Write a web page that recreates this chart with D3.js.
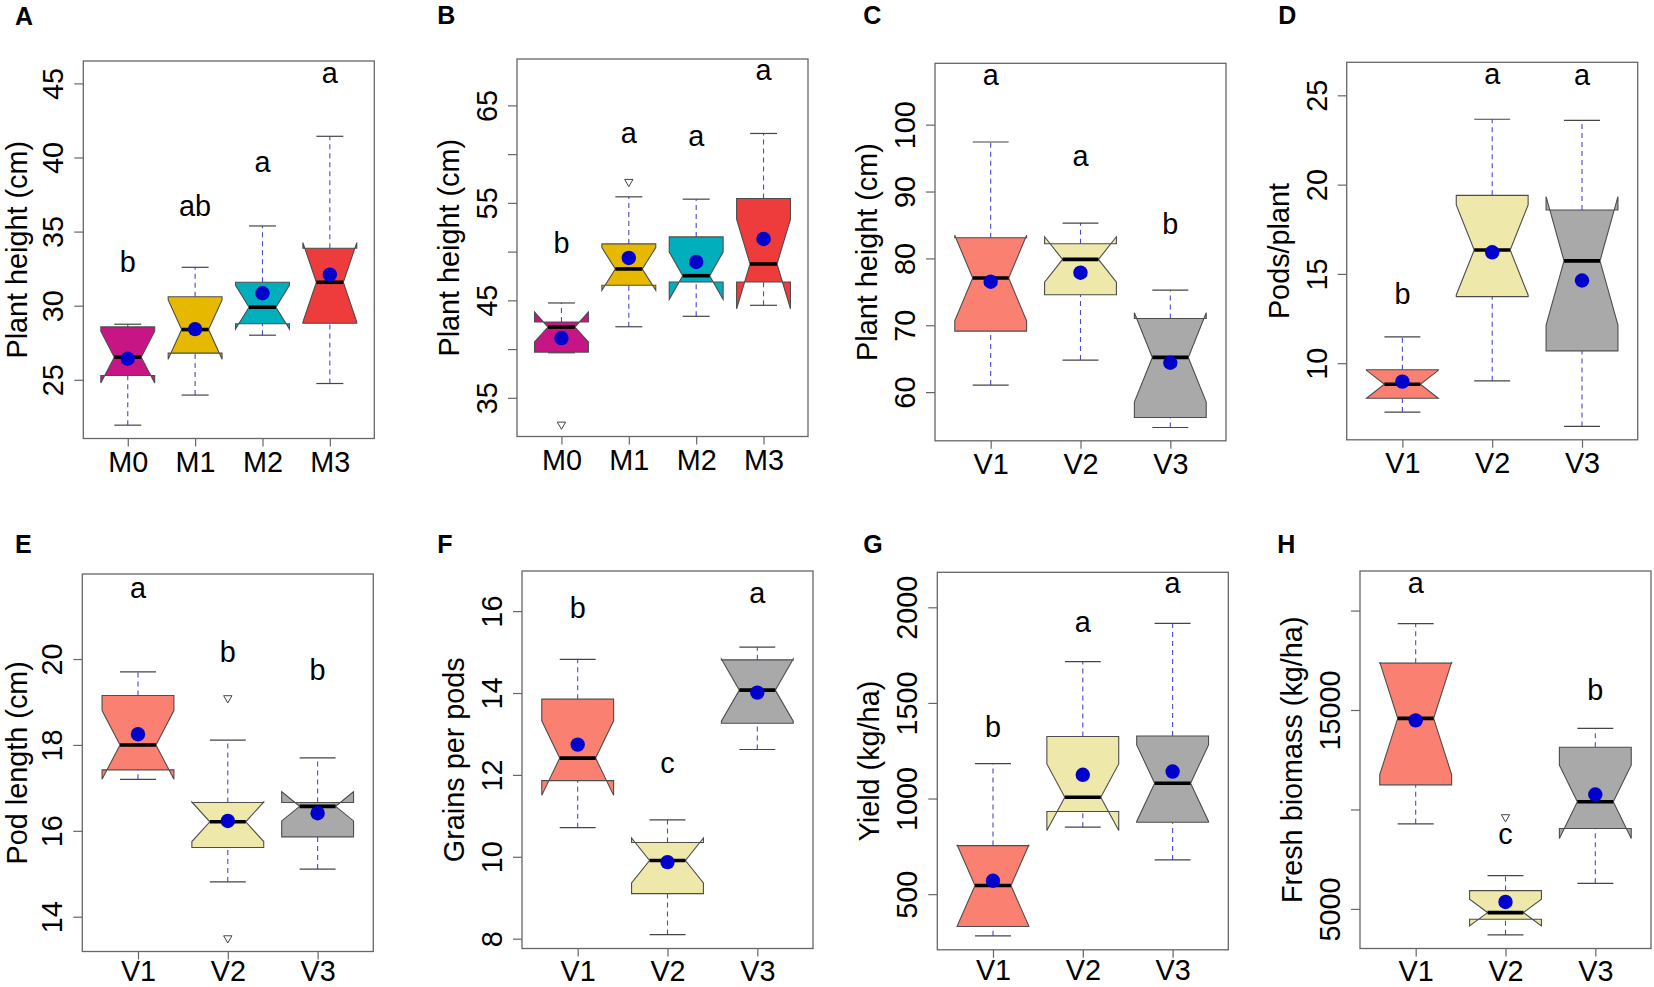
<!DOCTYPE html>
<html>
<head>
<meta charset="utf-8">
<script src="https://cdn.jsdelivr.net/npm/d3@7"></script>
<style>
  body { margin: 0; background: #fff; }
  text { font-family: "Liberation Sans", Arial, sans-serif; }
</style>
</head>
<body>
<div id="chart"></div>
<script>
// groups and fills
const groupsM = ["M0", "M1", "M2", "M3"];
const groupsV = ["V1", "V2", "V3"];
const colorsM = ["#C71585", "#E7B800", "#00AFBB", "#EE3B3B"];
const colorsV = ["#FA8072", "#EEE8AA", "#A9A9A9"];

// stats per group: [lower whisker, q1, median, q3, upper whisker]
// notch: [conf low, conf high]

// A - plant height (cm), M groups
const statsA = [[21.94, 25.29, 26.53, 28.57, 28.75], [23.97, 26.80, 28.39, 30.60, 32.59],
                [28.01, 28.78, 29.90, 31.58, 35.38], [24.75, 28.82, 31.58, 33.88, 41.43]];
const notchA = [[24.78, 28.28], [26.39, 30.39], [28.42, 31.38], [28.90, 34.26]];
const meanA = [26.42, 28.42, 30.84, 32.10];
const outA = [[], [], [], []];
const lettersA = ["b", "ab", "a", "a"];
const letterYA = [32.3, 36.06, 39.04, 45.04];
const ticksA = [25, 30, 35, 40, 45];
const labelsA = [25, 30, 35, 40, 45];

// B - plant height (cm), M groups
const statsB = [[39.62, 39.69, 42.26, 42.77, 44.73], [42.29, 46.54, 48.22, 50.79, 55.62],
                [43.36, 46.88, 47.53, 51.51, 55.38], [44.49, 46.88, 48.73, 55.45, 62.12]];
const notchB = [[40.72, 43.80], [46.03, 50.41], [45.10, 49.96], [44.14, 53.32]];
const meanB = [41.13, 49.35, 48.94, 51.30];
const outB = [[32.26], [57.16], [], []];
const lettersB = ["b", "a", "a", "a"];
const letterYB = [49.9, 61.1, 60.86, 67.6];
const ticksB = [35, 40, 45, 50, 55, 60, 65];
const labelsB = [35, 45, 55, 65];

// C - plant height (cm), V groups
const statsC = [[61.05, 69.13, 77.06, 83.09, 97.41], [64.79, 74.56, 79.85, 82.19, 85.29],
                [54.71, 56.21, 65.19, 71.02, 75.26]];
const notchC = [[70.67, 83.45], [76.46, 83.24], [58.51, 71.87]];
const meanC = [76.51, 77.86, 64.39];
const outC = [[], [], []];
const lettersC = ["a", "a", "b"];
const letterYC = [106.0, 93.87, 83.59];
const ticksC = [60, 70, 80, 90, 100];
const labelsC = [60, 70, 80, 90, 100];

// D - pods/plant
const statsD = [[7.26, 8.04, 8.82, 9.63, 11.47], [9.01, 13.73, 16.34, 19.40, 23.66],
                [6.46, 10.69, 15.73, 18.58, 23.60]];
const notchD = [[8.04, 9.60], [13.82, 18.86], [12.13, 19.33]];
const meanD = [8.97, 16.21, 14.63];
const outD = [[], [], []];
const lettersD = ["b", "a", "a"];
const letterYD = [13.32, 25.63, 25.58];
const ticksD = [10, 15, 20, 25];
const labelsD = [10, 15, 20, 25];

// E - pod length (cm)
const statsE = [[17.20, 17.42, 18.00, 19.15, 19.70], [14.81, 15.61, 16.21, 16.66, 18.11],
                [15.11, 15.86, 16.57, 16.66, 17.70]];
const notchE = [[17.20, 18.80], [15.75, 16.67], [16.23, 16.91]];
const meanE = [18.25, 16.23, 16.41];
const outE = [[], [19.09, 13.50], []];
const lettersE = ["a", "b", "b"];
const letterYE = [21.41, 19.92, 19.51];
const ticksE = [14, 16, 18, 20];
const labelsE = [14, 16, 18, 20];

// F - grains per pods
const statsF = [[10.71, 11.86, 12.41, 13.85, 14.82], [8.10, 9.10, 9.91, 10.35, 10.90],
                [12.62, 13.26, 14.07, 14.81, 15.12]];
const notchF = [[11.50, 13.32], [9.36, 10.46], [13.31, 14.83]];
const meanF = [12.74, 9.87, 14.01];
const outF = [[], [], []];
const lettersF = ["b", "c", "a"];
const letterYF = [15.82, 12.05, 16.19];
const ticksF = [8, 10, 12, 14, 16];
const labelsF = [8, 10, 12, 14, 16];

// G - yield (kg/ha)
const statsG = [[282, 331, 545, 754, 1183], [850, 932, 1007, 1324, 1716],
                [679, 876, 1080, 1327, 1916]];
const notchG = [[332, 758], [833, 1181], [880, 1280]];
const meanG = [570, 1124, 1141];
const outG = [[], [], []];
const lettersG = ["b", "a", "a"];
const letterYG = [1324, 1873, 2073];
const ticksG = [500, 1000, 1500, 2000];
const labelsG = [500, 1000, 1500, 2000];

// H - fresh biomass (kg/ha)
const statsH = [[9280, 11237, 14581, 17356, 19346], [3696, 4482, 4816, 5920, 6672],
                [6287, 9046, 10384, 13126, 14079]];
const notchH = [[11755, 17407], [4147, 5485], [8545, 12223]];
const meanH = [14480, 5351, 10752];
const outH = [[], [9615], []];
const lettersH = ["a", "c", "b"];
const letterYH = [20867, 8277, 15483];
const ticksH = [5000, 10000, 15000, 20000];
const labelsH = [5000, 15000];

// layout
let width = 1654, height = 987;
const plotW = 291, plotH = 377.5;
const fontSize = 28.8;
const frameCol = "#666";

let svg = d3.select("#chart")
  .append('svg')
  .attr('width', width)
  .attr('height', height)
  .style('background', '#fff');

const panels = [
  { tag: "A", tx: 15, ty: 25, left: 83.3, top: 61, yDomain: [21.04, 46.51], title: "Plant height (cm)",
    groups: groupsM, colors: colorsM, stats: statsA, notch: notchA, mean: meanA, out: outA, letters: lettersA, letterY: letterYA, ticks: ticksA, labels: labelsA },
  { tag: "B", tx: 437.3, ty: 24, left: 517, top: 59, yDomain: [31.03, 69.76], title: "Plant height (cm)",
    groups: groupsM, colors: colorsM, stats: statsB, notch: notchB, mean: meanB, out: outB, letters: lettersB, letterY: letterYB, ticks: ticksB, labels: labelsB },
  { tag: "C", tx: 863.3, ty: 24, left: 935, top: 63.3, yDomain: [52.72, 109.18], title: "Plant height (cm)",
    groups: groupsV, colors: colorsV, stats: statsC, notch: notchC, mean: meanC, out: outC, letters: lettersC, letterY: letterYC, ticks: ticksC, labels: labelsC },
  { tag: "D", tx: 1278.3, ty: 24, left: 1346.7, top: 62.3, yDomain: [5.71, 26.85], title: "Pods/plant",
    groups: groupsV, colors: colorsV, stats: statsD, notch: notchD, mean: meanD, out: outD, letters: lettersD, letterY: letterYD, ticks: ticksD, labels: labelsD },
  { tag: "E", tx: 15, ty: 553, left: 82.3, top: 574, yDomain: [13.19, 21.98], title: "Pod length (cm)",
    groups: groupsV, colors: colorsV, stats: statsE, notch: notchE, mean: meanE, out: outE, letters: lettersE, letterY: letterYE, ticks: ticksE, labels: labelsE },
  { tag: "F", tx: 437.3, ty: 553, left: 522, top: 571, yDomain: [7.76, 16.98], title: "Grains per pods",
    groups: groupsV, colors: colorsV, stats: statsF, notch: notchF, mean: meanF, out: outF, letters: lettersF, letterY: letterYF, ticks: ticksF, labels: labelsF },
  { tag: "G", tx: 863.3, ty: 553, left: 937.3, top: 572.3, yDomain: [209, 2183], title: "Yield (kg/ha)",
    groups: groupsV, colors: colorsV, stats: statsG, notch: notchG, mean: meanG, out: outG, letters: lettersG, letterY: letterYG, ticks: ticksG, labels: labelsG },
  { tag: "H", tx: 1277.3, ty: 553, left: 1360, top: 571, yDomain: [3010, 21988], title: "Fresh biomass (kg/ha)",
    groups: groupsV, colors: colorsV, stats: statsH, notch: notchH, mean: meanH, out: outH, letters: lettersH, letterY: letterYH, ticks: ticksH, labels: labelsH }
];

function drawPanel(p) {
  const g = svg.append('g');
  const n = p.groups.length;

  // R style: xlim c(0.5, n+0.5) widened by 4%
  const x = d3.scaleLinear()
    .domain([0.5 - 0.04 * n, n + 0.5 + 0.04 * n])
    .range([p.left, p.left + plotW]);
  const y = d3.scaleLinear()
    .domain(p.yDomain)
    .range([p.top + plotH, p.top]);
  const hw = x(0.4) - x(0);   // half box width (boxwex 0.8)

  // y axis, labels parallel to the axis
  const yAxis = g.append('g')
    .attr('transform', `translate(${p.left},0)`)
    .call(d3.axisLeft(y).tickValues(p.ticks).tickSize(9)
      .tickFormat(d => p.labels.includes(d) ? d : ''));
  yAxis.select('.domain').remove();
  yAxis.selectAll('line').attr('stroke', frameCol).attr('stroke-width', 1.2);
  yAxis.selectAll('text')
    .attr('x', null).attr('dy', null)
    .attr('transform', 'translate(-20,0) rotate(-90)')
    .attr('text-anchor', 'middle')
    .attr('fill', '#000')
    .style('font-size', fontSize + 'px');

  // x axis (labels kept just inside the page bottom)
  const labelOff = Math.min(33, height - 6.5 - (p.top + plotH));
  const xAxis = g.append('g')
    .attr('transform', `translate(0,${p.top + plotH})`)
    .call(d3.axisBottom(x).tickValues(d3.range(1, n + 1)).tickSize(8)
      .tickFormat(d => p.groups[d - 1]));
  xAxis.select('.domain').remove();
  xAxis.selectAll('line').attr('stroke', frameCol).attr('stroke-width', 1.2);
  xAxis.selectAll('text')
    .attr('y', labelOff).attr('dy', null)
    .attr('fill', '#000')
    .style('font-size', fontSize + 'px');

  // y title (kept inside the page's left edge)
  const titleX = Math.max(p.left - 58, 27);
  g.append('text')
    .attr('transform', `translate(${titleX},${p.top + plotH / 2}) rotate(-90)`)
    .attr('text-anchor', 'middle')
    .style('font-size', fontSize + 'px')
    .text(p.title);

  // panel tag
  svg.append('text')
    .attr('x', p.tx)
    .attr('y', p.ty)
    .style('font-size', '25px')
    .style('font-weight', 'bold')
    .text(p.tag);

  p.stats.forEach((s, i) => {
    const cx = x(i + 1);
    const [lo, q1, med, q3, hi] = s;
    const [cLo, cHi] = p.notch[i];

    // whiskers
    [[lo, q1], [q3, hi]].forEach(seg => {
      g.append('line')
        .attr('x1', cx).attr('x2', cx)
        .attr('y1', y(seg[0])).attr('y2', y(seg[1]))
        .attr('stroke', '#4a4acc')
        .attr('stroke-width', 1.1)
        .attr('stroke-dasharray', '5,4');
    });
    // staples
    [lo, hi].forEach(v => {
      g.append('line')
        .attr('x1', cx - hw / 2).attr('x2', cx + hw / 2)
        .attr('y1', y(v)).attr('y2', y(v))
        .attr('stroke', '#444')
        .attr('stroke-width', 1.2);
    });

    // notched box, same vertex order as R's bxp
    const pts = [
      [cx - hw, q1], [cx + hw, q1], [cx + hw, cLo], [cx + hw / 2, med], [cx + hw, cHi],
      [cx + hw, q3], [cx - hw, q3], [cx - hw, cHi], [cx - hw / 2, med], [cx - hw, cLo]
    ];
    g.append('polygon')
      .attr('points', pts.map(d => `${d[0]},${y(d[1])}`).join(' '))
      .attr('fill', p.colors[i])
      .attr('stroke', '#4d4d4d')
      .attr('stroke-width', 1.1)
      .attr('stroke-linejoin', 'miter');

    // median
    g.append('line')
      .attr('x1', cx - hw / 2).attr('x2', cx + hw / 2)
      .attr('y1', y(med)).attr('y2', y(med))
      .attr('stroke', '#000')
      .attr('stroke-width', 3.6);

    // outliers
    p.out[i].forEach(v => {
      g.append('path')
        .attr('d', d3.symbol(d3.symbolTriangle, 30)())
        .attr('transform', `translate(${cx},${y(v)}) rotate(180)`)
        .attr('fill', 'none')
        .attr('stroke', '#444')
        .attr('stroke-width', 1);
    });

    // mean
    g.append('circle')
      .attr('cx', cx).attr('cy', y(p.mean[i]))
      .attr('r', 7.2)
      .attr('fill', '#0000CD');

    // significance letter
    g.append('text')
      .attr('x', cx).attr('y', y(p.letterY[i]))
      .attr('text-anchor', 'middle')
      .style('font-size', fontSize + 'px')
      .text(p.letters[i]);
  });

  // frame
  g.append('rect')
    .attr('x', p.left).attr('y', p.top)
    .attr('width', plotW).attr('height', plotH)
    .attr('fill', 'none')
    .attr('stroke', frameCol)
    .attr('stroke-width', 1.3);
}

panels.forEach(drawPanel);
</script>
</body>
</html>
